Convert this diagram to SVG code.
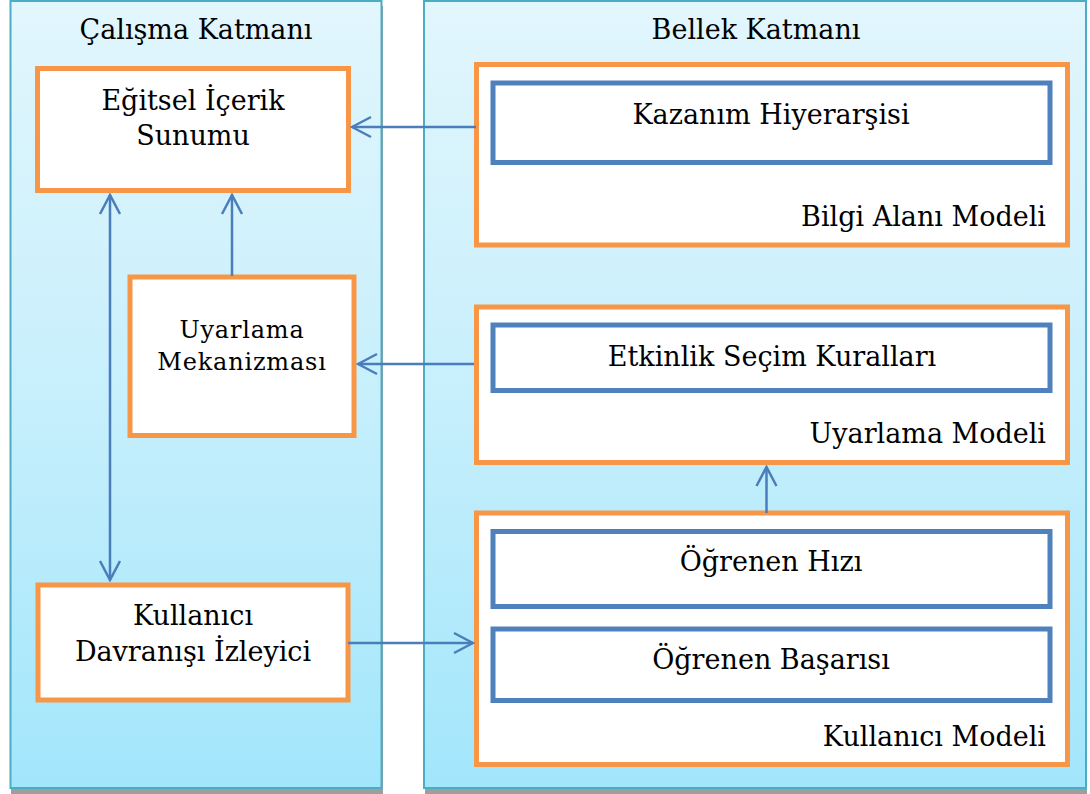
<svg xmlns="http://www.w3.org/2000/svg" width="1090" height="794" viewBox="0 0 1090 794">
  <defs>
    <linearGradient id="panelFill" x1="0" y1="0" x2="0" y2="1">
      <stop offset="0" stop-color="#e2f6fd"/>
      <stop offset="0.5" stop-color="#c7effc"/>
      <stop offset="1" stop-color="#a2e6fb"/>
    </linearGradient>
    <marker id="arrowOpen" viewBox="0 0 24 24" refX="22" refY="12" markerWidth="24" markerHeight="24" markerUnits="userSpaceOnUse" orient="auto-start-reverse">
      <path d="M 3 2 L 22 12 L 3 22" fill="none" stroke="#4a7ebb" stroke-width="2.5"/>
    </marker>
    <style>
      .panel { fill: url(#panelFill); stroke: #4bacc6; stroke-width: 2; }
      .shadow { fill: #9e9e9e; }
      .orange { fill: #ffffff; stroke: #f79646; stroke-width: 5; }
      .blue { fill: #ffffff; stroke: #4f81bd; stroke-width: 5; }
      .txt { font-family: "DejaVu Serif", "Liberation Serif", serif; font-size: 27px; fill: #000000; }
      .mid { text-anchor: middle; }
      .end { text-anchor: end; }
      .small { font-size: 24px; letter-spacing: 0.8px; }
      .conn { fill: none; stroke: #4a7ebb; stroke-width: 2.5; }
    </style>
  </defs>

  <g id="panel-calisma">
    <rect class="shadow" x="11" y="6" width="372" height="788"/>
    <rect class="panel" x="10.5" y="1" width="371" height="787"/>
    <text class="txt mid" x="196" y="39">Çalışma Katmanı</text>
  </g>

  <g id="panel-bellek">
    <rect class="shadow" x="425" y="6" width="662" height="788"/>
    <rect class="panel" x="424" y="1" width="662" height="787"/>
    <text class="txt mid" x="756" y="39">Bellek Katmanı</text>
  </g>

  <g id="node-egitsel">
    <rect class="orange" x="37.5" y="68.5" width="311" height="122"/>
    <text class="txt mid" x="193" y="110">Eğitsel İçerik</text>
    <text class="txt mid" x="193" y="145">Sunumu</text>
  </g>

  <g id="node-uyarlama-mekanizmasi">
    <rect class="orange" x="130" y="277" width="224" height="158.5"/>
    <text class="txt mid small" x="242" y="338">Uyarlama</text>
    <text class="txt mid small" x="242" y="370">Mekanizması</text>
  </g>

  <g id="node-kullanici-izleyici">
    <rect class="orange" x="38" y="585" width="310" height="115"/>
    <text class="txt mid" x="193" y="625">Kullanıcı</text>
    <text class="txt mid" x="193" y="661">Davranışı İzleyici</text>
  </g>

  <g id="node-bilgi-alani-modeli">
    <rect class="orange" x="476.5" y="64.5" width="591" height="180.5"/>
    <text class="txt end" x="1046" y="226">Bilgi Alanı Modeli</text>
  </g>
  <g id="node-kazanim">
    <rect class="blue" x="493" y="83" width="557" height="79.5"/>
    <text class="txt mid" x="771" y="124">Kazanım Hiyerarşisi</text>
  </g>

  <g id="node-uyarlama-modeli">
    <rect class="orange" x="476.5" y="307" width="591" height="155.5"/>
    <text class="txt end" x="1046" y="443">Uyarlama Modeli</text>
  </g>
  <g id="node-etkinlik">
    <rect class="blue" x="493" y="325" width="557" height="65.5"/>
    <text class="txt mid" x="772" y="366">Etkinlik Seçim Kuralları</text>
  </g>

  <g id="node-kullanici-modeli">
    <rect class="orange" x="476.5" y="513" width="591" height="251.5"/>
    <text class="txt end" x="1046" y="746">Kullanıcı Modeli</text>
  </g>
  <g id="node-ogrenen-hizi">
    <rect class="blue" x="493" y="531.5" width="557" height="75"/>
    <text class="txt mid" x="771" y="571">Öğrenen Hızı</text>
  </g>
  <g id="node-ogrenen-basarisi">
    <rect class="blue" x="493" y="629" width="557" height="71.5"/>
    <text class="txt mid" x="771" y="669">Öğrenen Başarısı</text>
  </g>

  <g id="connectors">
    <line class="conn" x1="476" y1="127" x2="352" y2="127" marker-end="url(#arrowOpen)"/>
    <line class="conn" x1="474" y1="364" x2="358" y2="364" marker-end="url(#arrowOpen)"/>
    <line class="conn" x1="348" y1="643" x2="473" y2="643" marker-end="url(#arrowOpen)"/>
    <line class="conn" x1="110" y1="195" x2="110" y2="580" marker-start="url(#arrowOpen)" marker-end="url(#arrowOpen)"/>
    <line class="conn" x1="232" y1="276" x2="232" y2="195" marker-end="url(#arrowOpen)"/>
    <line class="conn" x1="766.5" y1="513" x2="766.5" y2="467" marker-end="url(#arrowOpen)"/>
  </g>
</svg>
